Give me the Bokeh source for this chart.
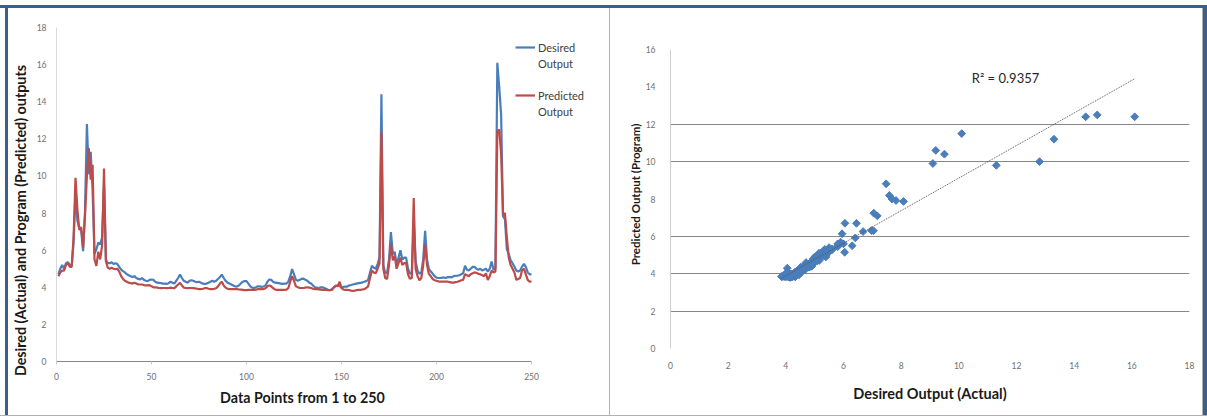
import numpy as np
from bokeh.plotting import figure
from bokeh.models import Range1d, FixedTicker, Legend, LegendItem, Label, Div
from bokeh.layouts import row, column
from bokeh.embed import file_html
from bokeh.resources import INLINE

# ---------------- data ----------------
points = list(range(1, 251))

desired = [
    4.70, 5.00, 5.20, 5.00, 5.30, 5.35, 5.20, 5.15, 6.45, 9.10,
    7.59, 7.17, 7.05, 5.95, 8.08, 12.80, 10.10, 11.30, 9.20, 5.80,
    6.04, 6.41, 6.30, 6.68, 9.50, 5.50, 5.30, 5.30, 5.35, 5.25,
    5.30, 5.25, 5.10, 4.95, 4.87, 4.80, 4.70, 4.65, 4.60, 4.55,
    4.60, 4.50, 4.45, 4.42, 4.50, 4.40, 4.35, 4.33, 4.40, 4.42,
    4.40, 4.30, 4.25, 4.24, 4.22, 4.20, 4.20, 4.18, 4.22, 4.30,
    4.25, 4.20, 4.35, 4.50, 4.68, 4.50, 4.35, 4.30, 4.25, 4.35,
    4.38, 4.35, 4.30, 4.28, 4.30, 4.25, 4.20, 4.18, 4.20, 4.25,
    4.30, 4.35, 4.30, 4.35, 4.45, 4.55, 4.68, 4.50, 4.35, 4.25,
    4.20, 4.15, 4.10, 4.05, 4.04, 4.10, 4.20, 4.30, 4.33, 4.33,
    4.20, 4.05, 3.98, 3.96, 4.00, 4.05, 4.05, 4.02, 4.04, 4.10,
    4.30, 4.42, 4.40, 4.30, 4.25, 4.24, 4.22, 4.20, 4.18, 4.20,
    4.20, 4.30, 4.60, 4.98, 4.70, 4.40, 4.35, 4.40, 4.45, 4.47,
    4.40, 4.35, 4.25, 4.20, 4.10, 4.00, 3.98, 3.95, 4.00, 4.00,
    3.96, 3.90, 3.86, 3.85, 3.90, 4.00, 4.05, 4.10, 4.05, 4.00,
    4.02, 4.04, 4.04, 4.10, 4.12, 4.15, 4.18, 4.20, 4.22, 4.24,
    4.26, 4.30, 4.33, 4.40, 4.80, 5.16, 5.05, 5.00, 5.25, 5.60,
    14.40, 5.20, 4.75, 4.80, 5.50, 6.97, 5.80, 5.90, 5.20, 5.60,
    6.00, 5.50, 5.60, 5.60, 5.00, 4.73, 4.80, 7.48, 5.40, 4.90,
    4.73, 4.80, 5.50, 7.04, 5.50, 4.98, 4.85, 4.73, 4.60, 4.52,
    4.50, 4.50, 4.52, 4.52, 4.50, 4.55, 4.55, 4.53, 4.60, 4.62,
    4.63, 4.65, 4.70, 4.75, 5.16, 4.95, 4.90, 5.00, 5.10, 5.10,
    5.00, 4.95, 5.00, 4.90, 4.95, 5.00, 4.85, 5.00, 5.39, 4.95,
    5.00, 16.10, 14.80, 13.30, 7.82, 7.68, 6.05, 5.80, 5.45, 5.30,
    5.10, 4.90, 4.85, 4.90, 5.10, 5.26, 5.10, 4.80, 4.70, 4.70,
]

predicted = [
    4.60, 4.80, 4.90, 4.90, 5.20, 5.30, 5.10, 5.10, 6.70, 9.90,
    8.19, 7.10, 7.24, 6.14, 7.87, 10.00, 11.50, 9.80, 10.60, 5.50,
    5.15, 5.92, 5.50, 6.26, 10.40, 5.40, 5.05, 5.00, 5.05, 5.00,
    4.98, 5.00, 4.85, 4.60, 4.45, 4.35, 4.30, 4.25, 4.22, 4.20,
    4.25, 4.20, 4.15, 4.15, 4.15, 4.12, 4.10, 4.10, 4.12, 4.05,
    4.00, 4.00, 3.98, 3.96, 3.95, 3.96, 3.96, 3.95, 3.96, 3.98,
    3.96, 3.95, 4.05, 4.15, 4.24, 4.10, 3.98, 3.96, 3.95, 3.96,
    3.96, 3.95, 3.94, 3.92, 3.90, 3.90, 3.92, 3.95, 3.96, 3.92,
    3.90, 3.90, 3.92, 3.95, 4.05, 4.20, 4.30, 4.10, 3.98, 3.92,
    3.90, 3.90, 3.90, 3.90, 3.90, 3.88, 3.87, 3.86, 3.85, 3.85,
    3.86, 3.86, 3.86, 3.86, 3.87, 3.90, 3.90, 3.90, 3.90, 3.95,
    4.05, 4.10, 4.05, 3.95, 3.88, 3.86, 3.86, 3.86, 3.86, 3.86,
    3.87, 3.95, 4.30, 4.60, 4.35, 4.05, 4.00, 3.97, 3.96, 3.96,
    3.98, 4.00, 3.98, 3.96, 3.92, 3.90, 3.90, 3.88, 3.87, 3.86,
    3.86, 3.86, 3.85, 3.85, 3.86, 4.00, 4.10, 4.05, 4.30, 3.95,
    3.88, 3.86, 3.86, 3.85, 3.82, 3.80, 3.82, 3.85, 3.86, 3.86,
    3.88, 3.90, 3.96, 4.05, 4.50, 4.90, 4.80, 4.75, 5.00, 5.30,
    12.40, 5.00, 4.50, 4.45, 5.20, 6.31, 5.45, 5.69, 5.00, 5.30,
    5.60, 5.20, 5.30, 5.30, 4.70, 4.46, 4.50, 8.81, 5.00, 4.60,
    4.37, 4.50, 5.20, 6.30, 5.20, 4.71, 4.60, 4.44, 4.38, 4.35,
    4.32, 4.30, 4.30, 4.30, 4.30, 4.30, 4.28, 4.25, 4.25, 4.28,
    4.30, 4.33, 4.38, 4.40, 4.71, 4.65, 4.60, 4.70, 4.75, 4.80,
    4.78, 4.72, 4.70, 4.65, 4.60, 4.75, 4.39, 4.60, 4.90, 4.80,
    4.85, 12.40, 12.50, 11.20, 7.92, 8.00, 6.70, 5.60, 5.20, 5.00,
    4.80, 4.40, 4.45, 4.50, 4.90, 5.00, 4.70, 4.40, 4.30, 4.32,
]

left_x_ticks = [0, 50, 100, 150, 200, 250]
left_y_ticks = [0, 2, 4, 6, 8, 10, 12, 14, 16, 18]
left_grid_values = [18]
right_x_ticks = [0, 2, 4, 6, 8, 10, 12, 14, 16, 18]
right_y_ticks = [0, 2, 4, 6, 8, 10, 12, 14, 16]
right_grid_values = [2, 4, 6, 10, 12]
trend_slope = 0.871
trend_intercept = 0.41
r2_text = "R\u00b2 = 0.9357"

# ---------------- style ----------------
FONT = "Lato"
BLUE = "#4A7EBB"
RED = "#BE4B48"
FRAME_BLUE = "#3B5E8C"
TICK_COLOR = "#6f6f6f"
TITLE_COLOR = "#1a1a1a"
NB = "\u00a0"

# Both figures in the row share the same frame top/bottom (Bokeh aligns them),
# so the scatter's 0..16 axis is placed inside that frame via its range.
FRAME_TOP, FRAME_BOTTOM = 27, 361          # page pixels of the shared frame
R_TOP, R_BOTTOM = 49, 348                  # page pixels of y=16 and y=0 in the scatter
r_ppu = (R_BOTTOM - R_TOP) / 16.0
r_ymin = -(FRAME_BOTTOM - R_BOTTOM) / r_ppu
r_ymax = 16 + (R_TOP - FRAME_TOP) / r_ppu


def style_axis(ax, ticks, tick_standoff):
    ax.ticker = FixedTicker(ticks=ticks)
    ax.major_label_text_font = FONT
    ax.major_label_text_font_size = "8.5px"
    ax.major_label_text_color = TICK_COLOR
    ax.major_label_standoff = tick_standoff
    ax.minor_tick_line_color = None


def style_title(ax, label, size, standoff):
    ax.axis_label = label
    ax.axis_label_text_font = FONT
    ax.axis_label_text_font_style = "bold"
    ax.axis_label_text_font_size = size
    ax.axis_label_text_color = TITLE_COLOR
    ax.axis_label_standoff = standoff


# ---------------- left chart: time series ----------------
# the frame reaches past x=250 so that the legend (which sits on the plot's right edge) is not clipped
left = figure(width=601, height=407, x_range=Range1d(0, 286.3), y_range=Range1d(0, 18),
              output_backend="svg", toolbar_location=None,
              min_border_left=48, min_border_right=9, min_border_top=19, min_border_bottom=54)
left.outline_line_color = None

l_des = left.line(points, desired, line_color=BLUE, line_width=2.2)
l_pre = left.line(points, predicted, line_color=RED, line_width=2.2)
l_blank = left.line([], [], line_alpha=0)

style_axis(left.xaxis[0], left_x_ticks, 8)
style_title(left.xaxis[0], "Data Points from 1 to 250" + NB * 15, "14.3px", 6)
left.xaxis.bounds = (0, 250)
left.xaxis.axis_line_color = "#868686"
left.xaxis.major_tick_line_color = "#c8c8c8"
left.xaxis.major_tick_out = 3
left.xaxis.major_tick_in = 0

style_axis(left.yaxis[0], left_y_ticks, 10)
style_title(left.yaxis[0], "Desired (Actual) and Program (Predicted) outputs" + NB * 15, "14.3px", 5)
left.yaxis.axis_line_color = "#d9d9d9"
left.yaxis.major_tick_out = 0
left.yaxis.major_tick_in = 0

left.xgrid.visible = False
left.ygrid.ticker = FixedTicker(ticks=left_grid_values)
left.ygrid.bounds = (0, 250)
left.ygrid.grid_line_color = "#868686"

legend = Legend(items=[LegendItem(label="Desired", renderers=[l_des]),
                       LegendItem(label="Output", renderers=[l_blank]),
                       LegendItem(label=" ", renderers=[l_blank]),
                       LegendItem(label="Predicted", renderers=[l_pre]),
                       LegendItem(label="Output", renderers=[l_blank])],
                location=(459, 242))
legend.padding = 0
legend.margin = 0
legend.spacing = 0
legend.glyph_width = 20
legend.glyph_height = 16
legend.label_height = 16
legend.label_standoff = 3
legend.label_text_font = FONT
legend.label_text_font_size = "11px"
legend.label_text_color = "#404040"
legend.background_fill_alpha = 0
legend.border_line_color = None
left.add_layout(legend)

# ---------------- right chart: scatter ----------------
right = figure(width=592, height=407, x_range=Range1d(0, 18), y_range=Range1d(r_ymin, r_ymax),
               output_backend="svg", toolbar_location=None,
               min_border_left=60, min_border_right=13, min_border_top=19, min_border_bottom=54)
right.outline_line_color = None

right.scatter(desired, predicted, marker="square", angle=np.pi / 4, size=5.5,
              fill_color=BLUE, line_color=BLUE)

tx = [min(desired), max(desired)]
ty = [trend_slope * v + trend_intercept for v in tx]
right.line(tx, ty, line_color="#555555", line_width=1, line_dash="1 1")

right.add_layout(Label(x=10.45, y=14.5, text=r2_text, text_font=FONT, text_font_size="13px",
                       text_color="#262626", text_baseline="middle", text_align="left"))

style_axis(right.xaxis[0], right_x_ticks, 0)
style_title(right.xaxis[0], "Desired Output (Actual)", "14.5px", 13)
right.xaxis.axis_line_color = None
right.xaxis.major_tick_line_color = None
right.xaxis.major_tick_out = 0
right.xaxis.major_tick_in = 0

style_axis(right.yaxis[0], right_y_ticks, 15)
style_title(right.yaxis[0], "Predicted Output (Program)", "11.5px", 1)
right.yaxis.bounds = (0, 16)
right.yaxis.axis_line_color = "#cfcfcf"
right.yaxis.major_tick_out = 0
right.yaxis.major_tick_in = 0

right.xgrid.visible = False
right.ygrid.ticker = FixedTicker(ticks=right_grid_values)
right.ygrid.grid_line_color = "#868686"


# ---------------- frame ----------------
def bar(w, h, color):
    return Div(text="", width=w, height=h, margin=0, styles={"background-color": color})


layout = column(
    bar(1207, 5, "white"),
    bar(1207, 3, FRAME_BLUE),
    row(bar(5, 407, "white"), bar(3, 407, FRAME_BLUE), left, bar(1, 407, "#b0b0b0"),
        right, bar(1, 407, "#b0b0b0"), bar(4, 407, FRAME_BLUE), spacing=0),
    bar(1207, 1, "#b0b0b0"),
    spacing=0,
)

open("out.html", "w").write(file_html(layout, INLINE))
